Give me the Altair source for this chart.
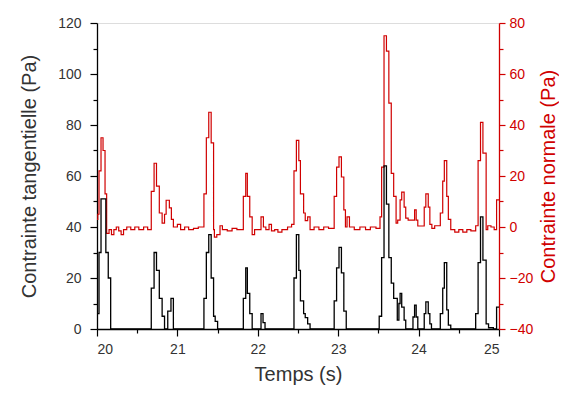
import altair as alt
import pandas as pd

# Contrainte tangentielle (Pa) - left axis, black (step series breakpoints)
t_tan = [20.00, 20.025, 20.05, 20.11, 20.14, 20.17,
         20.675, 20.71, 20.74, 20.775, 20.81, 20.84, 20.88, 20.92, 20.95,
         21.33, 21.36, 21.39, 21.42, 21.45, 21.47, 21.50,
         21.82, 21.85, 21.87, 21.90, 21.93, 22.04, 22.065, 22.09,
         22.45, 22.48, 22.51, 22.53, 22.57, 22.59, 22.62, 22.65,
         22.95, 22.98, 23.01, 23.04, 23.07, 23.10,
         23.51, 23.54, 23.57, 23.60, 23.63, 23.66, 23.69, 23.735, 23.755, 23.77, 23.79, 23.82, 23.84,
         23.93, 23.95, 23.97, 23.99, 24.07, 24.09, 24.12, 24.14, 24.16,
         24.27, 24.30, 24.32, 24.35, 24.37, 24.40,
         24.71, 24.74, 24.77, 24.80, 24.84, 24.87, 24.93, 24.97, 25.00]
v_tan = [6, 30, 51, 30, 20, 0,
         16, 30, 23, 12, 5, 0, 7, 12, 0,
         12, 30, 37, 20, 5, 3, 0,
         12, 24, 14, 6, 0, 6, 2.5, 0,
         20, 37, 23, 11, 6, 4.5, 2, 0,
         11, 24, 32, 22, 7, 0,
         5, 28, 64, 49, 28, 18, 12, 3.5, 10, 14, 8.6, 3.5, 0,
         4.7, 9.4, 4.7, 0, 6, 10.6, 6, 2, 0,
         6, 16, 26, 7.5, 1.5, 0,
         6, 26, 44, 27, 2, 0.5, 0, 8.6, 8.6]

# Contrainte normale (Pa) - right axis, red (step series breakpoints)
t_norm = [20.00, 20.01, 20.025, 20.05, 20.075, 20.10, 20.12, 20.15, 20.18, 20.21, 20.24, 20.27,
          20.30, 20.33, 20.37, 20.42, 20.47, 20.52, 20.58, 20.63,
          20.675, 20.71, 20.74, 20.775, 20.81, 20.84, 20.86, 20.90, 20.925, 20.95,
          21.00, 21.04, 21.09, 21.14, 21.20, 21.26,
          21.33, 21.36, 21.39, 21.42, 21.45, 21.46, 21.49, 21.53, 21.56, 21.62, 21.68, 21.74,
          21.82, 21.85, 21.87, 21.90, 21.93, 21.96, 22.04, 22.07, 22.10, 22.14, 22.17, 22.21,
          22.25, 22.30, 22.37, 22.42,
          22.45, 22.48, 22.51, 22.53, 22.57, 22.59, 22.62, 22.65, 22.70, 22.76, 22.82, 22.88,
          22.95, 22.98, 23.01, 23.04, 23.07, 23.09, 23.11, 23.14, 23.20, 23.27, 23.34, 23.40, 23.47,
          23.52, 23.54, 23.57, 23.60, 23.63, 23.66, 23.69, 23.72, 23.74, 23.77, 23.79, 23.82, 23.84,
          23.87, 23.92, 23.95, 23.97, 23.99, 24.07, 24.09, 24.12, 24.14, 24.165, 24.20,
          24.27, 24.30, 24.32, 24.35, 24.37, 24.40, 24.45, 24.50, 24.55, 24.60, 24.65,
          24.71, 24.74, 24.77, 24.80, 24.84, 24.86, 24.90, 24.94, 24.97, 25.00]
v_norm = [3, 5, 22, 35, 30, 13, -2.5, -1, -3, -1, 0, -1.5,
          -3, -1, 0, -1, 0, -1, 0, -1,
          14, 25, 16, 5.5, 1.5, 5, 10.5, 7.5, 3, 0,
          1, -1, 0, -1, -0.5, 0,
          13, 35, 45, 33, -1, -4, -3, 0.5, -1, -1.5, -0.5, -1,
          12, 21, 12, 4, -3, -1, 4, 0, -1, 1, -1.5, -1,
          -2, -1, 0, 1,
          22, 34, 26, 13, 5.5, 2.5, 4, -1, 0, -1, 0, -0.5,
          12, 23.5, 27.5, 19.6, 6.7, 0, 4, 0, -1, 0, -1, 0, -0.5,
          4, 23.5, 75, 69, 48.6, 21, 12, 1.5, 2.7, 10.6, 13.7, 7.8, 3.5,
          2.7, 2.7, 6.7, 2.7, 0.4, 7.8, 13, 7.8, 1, -0.5, 0.5,
          5.5, 18, 26, 12, 3, -1, -2, -1, -2, -1, -1.5,
          0.5, 26, 41, 29, -1, 0.5, 0, -1, 10.6, 10.6]

x_ticks = [20, 20.5, 21, 21.5, 22, 22.5, 23, 23.5, 24, 24.5, 25]
left_ticks = [0, 10, 20, 30, 40, 50, 60, 70, 80, 90, 100, 110, 120]
right_ticks = [-40, -30, -20, -10, 0, 10, 20, 30, 40, 50, 60, 70, 80]

df_tan = pd.DataFrame({"t": t_tan, "v": v_tan})
df_norm = pd.DataFrame({"t": t_norm, "v": v_norm})

RED = "#d00000"
GREY = "#333333"
FONT = "Liberation Sans"

x_enc = alt.X(
    "t:Q",
    scale=alt.Scale(domain=[20, 25], nice=False, zero=False),
    axis=alt.Axis(
        title="Temps (s)", values=x_ticks,
        labelExpr="datum.value % 1 === 0 ? format(datum.value, 'd') : ''",
        tickSize={"condition": {"test": "datum.value % 1 !== 0", "value": 4}, "value": 7},
        labelPadding=6, titlePadding=8, domainColor="black", tickColor="black",
        labelColor=GREY, titleColor=GREY, grid=False,
        labelFontSize=14, titleFontSize=20, titleFontWeight="normal",
    ),
)

norm = alt.Chart(df_norm).mark_line(interpolate="step-after", color=RED, strokeWidth=1.2).encode(
    x=x_enc,
    y=alt.Y(
        "v:Q",
        scale=alt.Scale(domain=[-40, 80], nice=False, zero=False),
        axis=alt.Axis(
            orient="right", title="Contrainte normale (Pa)", values=right_ticks,
            labelExpr="datum.value % 20 === 0 ? datum.label : ''",
            tickSize={"condition": {"test": "datum.value % 20 !== 0", "value": 4}, "value": 6},
            domainColor=RED, tickColor=RED, labelColor=RED, titleColor=RED,
            labelPadding=4, titlePadding=6, titleAngle=270, titleBaseline="top", grid=False,
            labelFontSize=14, titleFontSize=20, titleFontWeight="normal",
        ),
    ),
)

tan = alt.Chart(df_tan).mark_line(interpolate="step-after", color="black", strokeWidth=1.3).encode(
    x=x_enc,
    y=alt.Y(
        "v:Q",
        scale=alt.Scale(domain=[0, 120], nice=False, zero=False),
        axis=alt.Axis(
            orient="left", title="Contrainte tangentielle (Pa)", values=left_ticks,
            labelExpr="datum.value % 20 === 0 ? datum.label : ''",
            tickSize={"condition": {"test": "datum.value % 20 !== 0", "value": 4}, "value": 7},
            domainColor="black", tickColor="black", labelColor=GREY, titleColor=GREY,
            labelPadding=9, titlePadding=18, grid=False,
            labelFontSize=14, titleFontSize=20, titleFontWeight="normal",
        ),
    ),
)

chart = (
    alt.layer(norm, tan)
    .resolve_scale(y="independent")
    .properties(
        width=402, height=306,
        autosize=alt.AutoSizeParams(type="none"),
        padding={"left": 89, "top": 15, "right": 60, "bottom": 60},
    )
    .configure_view(stroke=None)
    .configure(font=FONT, background="white")
    .configure_axis(labelFont=FONT, titleFont=FONT, domainWidth=1.3, tickWidth=1.2)
)

chart.save("out.html", embed_options={"renderer": "svg", "actions": False})
